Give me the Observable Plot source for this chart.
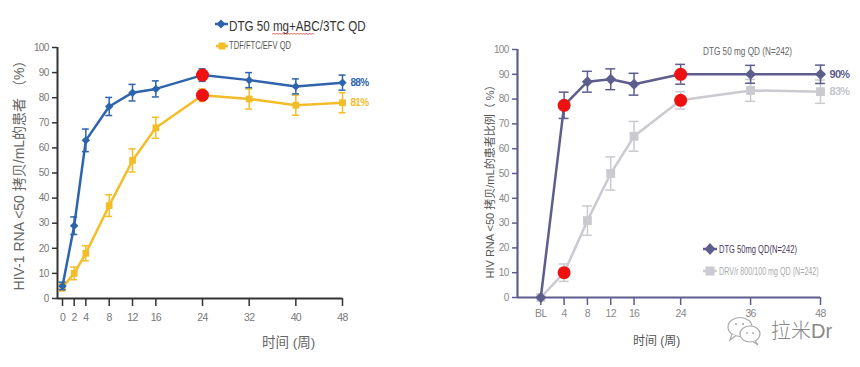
<!DOCTYPE html>
<html><head><meta charset="utf-8">
<script src="https://cdn.jsdelivr.net/npm/d3@7"></script>
<script src="https://cdn.jsdelivr.net/npm/@observablehq/plot@0.6"></script>
<style>
body{margin:0;background:#fff;}
#wrap{position:relative;width:860px;height:367px;overflow:hidden;font-family:"Liberation Sans",Arial,sans-serif;}
.panel{position:absolute;top:0;}
.panel svg text{letter-spacing:-0.7px;}
.ov{position:absolute;white-space:nowrap;line-height:1;}
.sq{transform-origin:left center;}
.vt{position:absolute;white-space:nowrap;line-height:1;transform:translate(-50%,-50%) rotate(-90deg);}
.cjk{font-family:"Liberation Sans",Arial,"Noto Sans CJK SC",sans-serif;}
</style></head><body>
<div id="wrap">
  <div id="left" class="panel" style="left:0"></div>
  <div id="right" class="panel" style="left:430px"></div>

  <!-- left legend -->
  <svg class="ov" style="left:212px;top:17px" width="20" height="36">
    <line x1="3" y1="7" x2="16" y2="7" stroke="#2e64ad" stroke-width="2.5"/>
    <path d="M9 2.5 L13.5 7 L9 11.5 L4.5 7Z" fill="#2e64ad"/>
    <line x1="4" y1="29" x2="16" y2="29" stroke="#f3bd28" stroke-width="2.5"/>
    <rect x="6.5" y="25.5" width="7" height="7" fill="#f3bd28"/>
  </svg>
  <div class="ov sq" style="left:229px;top:19px;font-size:14px;color:#333;transform:scaleX(0.83)">DTG 50 mg+ABC/3TC QD</div>
  <svg class="ov" style="left:272px;top:32px" width="46" height="5">
    <path d="M0 2.5 l1.5 -1.5 l1.5 1.5 l1.5 -1.5 l1.5 1.5 l1.5 -1.5 l1.5 1.5 l1.5 -1.5 l1.5 1.5 l1.5 -1.5 l1.5 1.5 l1.5 -1.5 l1.5 1.5 l1.5 -1.5 l1.5 1.5 l1.5 -1.5 l1.5 1.5 l1.5 -1.5 l1.5 1.5 l1.5 -1.5 l1.5 1.5 l1.5 -1.5 l1.5 1.5 l1.5 -1.5 l1.5 1.5 l1.5 -1.5 l1.5 1.5 l1.5 -1.5 l1.5 1.5" fill="none" stroke="#e03030" stroke-width="0.8"/>
  </svg>
  <div class="ov sq" style="left:229px;top:41px;font-size:10px;color:#555;transform:scaleX(0.76)">TDF/FTC/EFV QD</div>

  <!-- left titles -->
  <div class="vt cjk" style="left:19px;top:172px;font-size:14px;color:#666">HIV-1 RNA &lt;50 拷贝/mL的患者 （%）</div>
  <div class="ov cjk" style="left:262px;top:336px;font-size:13.5px;color:#666">时间 (周)</div>

  <!-- right legend -->
  <div class="ov sq" style="left:703px;top:47px;font-size:10px;color:#666;transform:scaleX(0.82)">DTG 50 mg QD (N=242)</div>
  <svg class="ov" style="left:700px;top:240px" width="20" height="42">
    <line x1="3" y1="9" x2="17" y2="9" stroke="#5d5e8e" stroke-width="2.5"/>
    <path d="M10 3 L15.5 9 L10 15 L4.5 9Z" fill="#5d5e8e"/>
    <line x1="3" y1="31" x2="17" y2="31" stroke="#cacad0" stroke-width="2.5"/>
    <rect x="5.5" y="26.5" width="9" height="9" fill="#cacad0"/>
  </svg>
  <div class="ov sq" style="left:719px;top:244px;font-size:10.5px;color:#4a3a5e;transform:scaleX(0.72)">DTG 50mg QD(N=242)</div>
  <div class="ov sq" style="left:719px;top:266px;font-size:10.5px;color:#aaa;transform:scaleX(0.68)">DRV/r 800/100 mg QD (N=242)</div>

  <!-- right titles -->
  <div class="vt cjk" style="left:490px;top:179px;font-size:11px;color:#555">HIV RNA &lt;50 拷贝/mL的患者比例（ %）</div>
  <div class="ov cjk" style="left:633px;top:335px;font-size:12px;color:#555">时间 (周)</div>

  <!-- watermark -->
  <svg class="ov" style="left:726px;top:315px" width="40" height="32">
    <ellipse cx="14" cy="12" rx="12" ry="9.5" fill="none" stroke="#aaa" stroke-width="1.2"/>
    <path d="M6 19 L4 25 L10 20.5" fill="#fff" stroke="#aaa" stroke-width="1.2"/>
    <ellipse cx="24" cy="19" rx="10" ry="8" fill="#fff" stroke="#aaa" stroke-width="1.2"/>
    <path d="M29 25.5 L32 30 L27 26.5" fill="#fff" stroke="#aaa" stroke-width="1.2"/>
    <circle cx="10" cy="9" r="1.1" fill="#aaa"/><circle cx="17" cy="9" r="1.1" fill="#aaa"/>
    <circle cx="21" cy="18" r="0.9" fill="#aaa"/><circle cx="27" cy="18" r="0.9" fill="#aaa"/>
  </svg>
  <div class="ov cjk" style="left:771px;top:321px;font-size:20px;color:#888;font-weight:300">拉米Dr</div>
</div>
<script>
// ---------- left panel data ----------
const weeksL = [0, 2, 4, 8, 12, 16, 24, 32, 40, 48];
const dtgL    = [5, 29, 63, 76.5, 82, 83.5, 89, 87, 84.5, 86];
const dtgLerr = [1.5, 3.5, 4.5, 3.6, 3.3, 3.2, 2.5, 3, 3, 3];
const tdfL    = [4.5, 10, 18, 37, 55, 68, 81, 79.5, 77, 78];
const tdfLerr = [1.5, 2.5, 3, 4.3, 4.6, 4.2, 2.5, 4, 4, 4];
const highlightL = [24];
const endLabelsL = ["88%", "81%"];
const yTicks = [0, 10, 20, 30, 40, 50, 60, 70, 80, 90, 100];

// ---------- right panel data ----------
const weeksR = [0, 4, 8, 12, 16, 24, 36, 48];
const weekLabelsR = ["BL", "4", "8", "12", "16", "24", "36", "48"];
const dtgR    = [0, 77.5, 87, 88, 86, 90, 90, 90];
const dtgRerr = [0, 5.3, 4.2, 4.2, 4.4, 4, 3.6, 3.7];
const drvR    = [0, 10, 31, 50, 65, 79.5, 83.5, 83];
const drvRerr = [0, 3.5, 5.9, 6.7, 6, 3.5, 4.4, 4.7];
const highlightR = [4, 24];
const endLabelsR = ["90%", "83%"];

const font = '"Liberation Sans",Arial,sans-serif';

function series(weeks, vals, errs, name) {
  return weeks.map((w, i) => ({w, v: vals[i], e: errs[i], name}));
}

function errMarks(rows, color, cap, sw) {
  const r = rows.filter(d => d.e > 0);
  return [
    Plot.ruleX(r, {x: "w", y1: d => d.v - d.e, y2: d => d.v + d.e, stroke: color, strokeWidth: sw}),
    Plot.ruleY(r, {y: d => d.v + d.e, x1: d => d.w - cap, x2: d => d.w + cap, stroke: color, strokeWidth: sw}),
    Plot.ruleY(r, {y: d => d.v - d.e, x1: d => d.w - cap, x2: d => d.w + cap, stroke: color, strokeWidth: sw})
  ];
}

// ---------- left chart ----------
{
  const blue = "#2e64ad", gold = "#f3bd28", axis = "#333";
  const a = series(weeksL, dtgL, dtgLerr, "DTG");
  const b = series(weeksL, tdfL, tdfLerr, "TDF");
  const xDom = [-0.86, 48];
  const hl = [...a, ...b].filter(d => highlightL.includes(d.w));
  const ends = [a[a.length - 1], b[b.length - 1]].map((d, i) => ({...d, label: endLabelsL[i], c: i ? gold : blue}));
  const chart = Plot.plot({
    width: 430, height: 367,
    marginLeft: 57, marginRight: 88, marginTop: 47, marginBottom: 69,
    x: {domain: xDom}, y: {domain: [0, 100]},
    style: {background: "transparent", fontFamily: font, fontSize: "10px", overflow: "visible"},
    marks: [
      Plot.axisY({ticks: yTicks, tickSize: 5, tickPadding: 4, stroke: axis, fill: "#777", strokeWidth: 1.5, label: null}),
      Plot.axisX({ticks: weeksL, tickSize: 8, tickPadding: 7, stroke: axis, fill: "#777", strokeWidth: 1.5, label: null, tickFormat: d => String(d), fontSize: 10.5}),
      Plot.ruleY([0], {x1: xDom[0], x2: xDom[1], stroke: axis, strokeWidth: 2}),
      Plot.ruleX([xDom[0]], {y1: 0, y2: 100, stroke: axis, strokeWidth: 2}),
      Plot.line(b, {x: "w", y: "v", stroke: gold, strokeWidth: 2.5}),
      ...errMarks(b, gold, 0.6, 1.5),
      Plot.dot(b, {x: "w", y: "v", symbol: "square", r: 3.8, fill: gold}),
      Plot.line(a, {x: "w", y: "v", stroke: blue, strokeWidth: 2.5}),
      ...errMarks(a, blue, 0.6, 1.5),
      Plot.dot(a, {x: "w", y: "v", symbol: "diamond2", r: 3.8, fill: blue, stroke: null}),
      Plot.dot(hl, {x: "w", y: "v", r: 6.5, fill: "#ee1111"}),
      Plot.text(ends, {x: "w", y: "v", text: "label", fill: "c", dx: 8, textAnchor: "start", fontWeight: "bold", fontSize: 10})
    ]
  });
  document.getElementById("left").append(chart);
}

// ---------- right chart ----------
{
  const purple = "#5d5e8e", grey = "#cacad0", axis = "#5d5e8e";
  const a = series(weeksR, dtgR, dtgRerr, "DTG");
  const b = series(weeksR, drvR, drvRerr, "DRV");
  const xDom = [-4, 48];
  const hl = [...a, ...b].filter(d => highlightR.includes(d.w));
  const ends = [a[a.length - 1], b[b.length - 1]].map((d, i) => ({...d, label: endLabelsR[i], c: i ? "#c4c4cc" : purple}));
  const lab = new Map(weeksR.map((w, i) => [w, weekLabelsR[i]]));
  const chart = Plot.plot({
    width: 430, height: 367,
    marginLeft: 87, marginRight: 40, marginTop: 49, marginBottom: 70,
    x: {domain: xDom}, y: {domain: [0, 100]},
    style: {background: "transparent", fontFamily: font, fontSize: "10px", overflow: "visible"},
    marks: [
      Plot.axisY({ticks: yTicks, tickSize: 5, tickPadding: 4, stroke: axis, fill: "#888", strokeWidth: 1.5, label: null}),
      Plot.axisX({ticks: weeksR, tickSize: 8, tickPadding: 4, stroke: axis, fill: "#888", strokeWidth: 1.5, label: null, tickFormat: d => lab.get(d), fontSize: 10.5}),
      Plot.ruleY([0], {x1: xDom[0], x2: xDom[1], stroke: axis, strokeWidth: 2.2}),
      Plot.ruleX([xDom[0]], {y1: 0, y2: 100, stroke: axis, strokeWidth: 2.2}),
      Plot.line(b, {x: "w", y: "v", stroke: grey, strokeWidth: 2.5}),
      ...errMarks(b, grey, 0.85, 1.5),
      Plot.dot(b, {x: "w", y: "v", symbol: "square", r: 5, fill: grey}),
      Plot.line(a, {x: "w", y: "v", stroke: purple, strokeWidth: 2.5}),
      ...errMarks(a, purple, 0.85, 1.5),
      Plot.dot(a, {x: "w", y: "v", symbol: "diamond2", r: 5, fill: purple, stroke: null}),
      Plot.dot(hl, {x: "w", y: "v", r: 6.5, fill: "#ee1111"}),
      Plot.text(ends, {x: "w", y: "v", text: "label", fill: "c", dx: 9, textAnchor: "start", fontWeight: "bold", fontSize: 11})
    ]
  });
  document.getElementById("right").append(chart);
}
</script>
</body></html>
